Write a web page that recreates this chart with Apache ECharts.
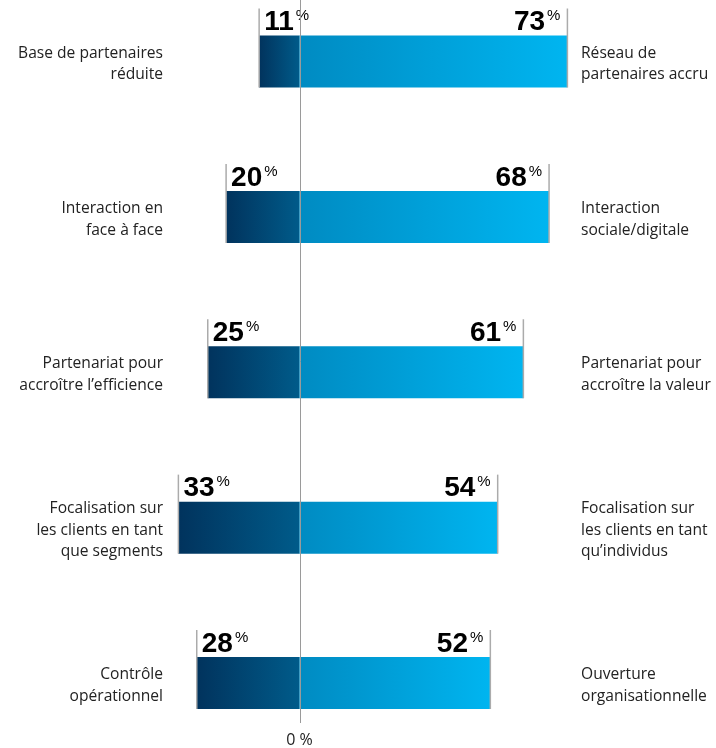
<!DOCTYPE html>
<html>
<head>
<meta charset="utf-8">
<script src="https://cdn.jsdelivr.net/npm/echarts@6/dist/echarts.min.js"></script>
<style>
html,body{margin:0;padding:0;background:#fff;}
#chart{width:716px;height:748px;}
</style>
</head>
<body>
<div id="chart"></div>
<script>
const leftCategories = [
  'Base de partenaires\nréduite',
  'Interaction en\nface à face',
  'Partenariat pour\naccroître l’efficience',
  'Focalisation sur\nles clients en tant\nque segments',
  'Contrôle\nopérationnel'
];
const rightCategories = [
  'Réseau de\npartenaires accru',
  'Interaction\nsociale/digitale',
  'Partenariat pour\naccroître la valeur',
  'Focalisation sur\nles clients en tant\nqu’individus',
  'Ouverture\norganisationnelle'
];
const leftValues = [11, 20, 25, 33, 28];
const rightValues = [73, 68, 61, 54, 52];

const chart = echarts.init(document.getElementById('chart'), null, {renderer: 'canvas'});

const BAR_W = 52;
const labelFont = '"Open Sans", sans-serif';
const numFont = '"Liberation Sans", Arial, sans-serif';
const rich = {
  n: {fontFamily: numFont, fontSize: 28, fontWeight: 'bold', color: '#111', lineHeight: 28, verticalAlign: 'bottom'},
  p: {fontFamily: numFont, fontSize: 15, color: '#111', lineHeight: 15, verticalAlign: 'top', padding: [0, 0, 0, 2]}
};

const leftGrad = new echarts.graphic.LinearGradient(0, 0, 1, 0, [
  {offset: 0, color: '#01335d'},
  {offset: 1, color: '#005b8a'}
]);
const rightGrad = new echarts.graphic.LinearGradient(0, 0, 1, 0, [
  {offset: 0, color: '#008bc2'},
  {offset: 1, color: '#00b5f0'}
]);

const catStyle = {fontFamily: labelFont, fontSize: 15.6, lineHeight: 21.5, fill: '#222', verticalAlign: 'middle'};

const option = {
  backgroundColor: '#ffffff',
  animation: false,
  grid: {left: 5.9, right: 12.8, top: 61.5, bottom: 64.5, containLabel: false},
  xAxis: {
    type: 'value', min: -80, max: 110, interval: 10,
    axisLine: {show: false}, axisTick: {show: false}, splitLine: {show: false},
    axisLabel: {
      show: true, margin: 49, fontFamily: labelFont, fontSize: 16, color: '#222',
      formatter: v => (v === 0 ? '0 %' : '')
    }
  },
  yAxis: {
    type: 'category', data: leftCategories, inverse: true, boundaryGap: false,
    axisLine: {show: false, onZero: false}, axisTick: {show: false}, splitLine: {show: false},
    axisLabel: {show: false}
  },
  series: [
    {
      type: 'bar', barWidth: BAR_W, barGap: '-100%',
      data: leftValues.map(v => -v),
      itemStyle: {color: leftGrad},
      z: 2
    },
    {
      type: 'bar', barWidth: BAR_W, barGap: '-100%',
      data: rightValues,
      itemStyle: {color: rightGrad},
      z: 2
    },
    {
      type: 'custom', z: 5,
      data: leftValues.map((l, i) => [-l, rightValues[i], i]),
      encode: {x: [0, 1], y: 2},
      renderItem: function (params, api) {
        const i = api.value(2);
        const c0 = api.coord([0, i]);
        const yc = c0[1];
        const x0 = c0[0];
        const xl = api.coord([api.value(0), i])[0];
        const xr = api.coord([api.value(1), i])[0];
        const half = BAR_W / 2;
        const lineStyle = {stroke: '#ababab', lineWidth: 1.5};
        const children = [
          {type: 'line', shape: {x1: xl, y1: yc - 53, x2: xl, y2: yc + half}, style: lineStyle},
          {type: 'line', shape: {x1: xr, y1: yc - 53, x2: xr, y2: yc + half}, style: lineStyle},
          {type: 'text', style: {text: '{n|' + leftValues[i] + '}{p|%}', x: xl + 5, y: yc - half + 1, align: 'left', verticalAlign: 'bottom', rich: rich}},
          {type: 'text', style: {text: '{n|' + rightValues[i] + '}{p|%}', x: xr - 7, y: yc - half + 1, align: 'right', verticalAlign: 'bottom', rich: rich}},
          {type: 'text', style: Object.assign({text: leftCategories[i], x: 163, y: yc + 2.5, align: 'right'}, catStyle)},
          {type: 'text', style: Object.assign({text: rightCategories[i], x: 581, y: yc + 2.5, align: 'left'}, catStyle)}
        ];
        if (params.dataIndex === 0) {
          children.push({type: 'line', shape: {x1: Math.round(x0) + 0.5, y1: 0, x2: Math.round(x0) + 0.5, y2: 723}, style: {stroke: '#9a9a9a', lineWidth: 1}});
        }
        return {type: 'group', children: children};
      }
    }
  ]
};
chart.setOption(option);
</script>
</body>
</html>
